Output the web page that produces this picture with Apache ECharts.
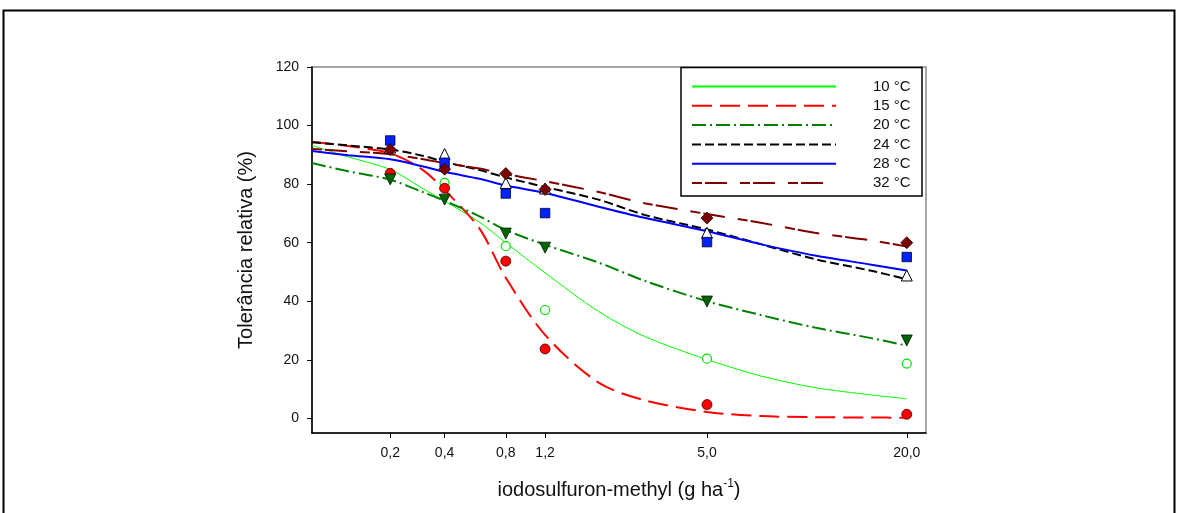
<!DOCTYPE html>
<html>
<head>
<meta charset="utf-8">
<script src="https://cdn.jsdelivr.net/npm/echarts@6/dist/echarts.min.js"></script>
<style>
  html, body { margin: 0; padding: 0; background: #ffffff; }
  #chart { width: 1179px; height: 513px; }
</style>
</head>
<body>
<div id="chart"></div>
<script>
// Doses of iodosulfuron-methyl (g ha-1) and their axis labels
const doses = [0.2, 0.4, 0.8, 1.2, 5, 20];
const doseTickLabels = ['0,2', '0,4', '0,8', '1,2', '5,0', '20,0'];
const yTicks = [0, 20, 40, 60, 80, 100, 120];
const seriesNames = ['10 °C', '15 °C', '20 °C', '24 °C', '28 °C', '32 °C'];

// Observed relative tolerance (%) at each dose
const obs10 = [83.5, 80.4, 58.8, 37.0, 20.4, 18.7];
const obs15 = [83.7, 78.6, 53.7, 23.7, 4.7, 1.4];
const obs20 = [81.6, 74.7, 63.1, 58.3, 39.9, 26.6];
const obs24 = [92.5, 90.3, 80.4, 78.5, 63.4, 48.8];
const obs28 = [94.9, 87.3, 76.8, 70.1, 60.2, 55.1];
const obs32 = [91.8, 85.1, 83.6, 78.2, 68.4, 60.0];

// Fitted dose-response curves, sampled along the dose range
const curveDoses = [0.0623, 0.11, 0.2, 0.3, 0.4, 0.6, 0.8, 1.2, 2, 3, 5, 7.5, 11, 16, 20];
const fit10 = [93.2, 89.3, 85.0, 78.8, 74.2, 67.0, 60.0, 49.7, 36.5, 28.0, 20.1, 14.5, 10.5, 8.0, 6.7];
const fit15 = [94.5, 93.0, 90.5, 85.2, 78.0, 64.8, 48.0, 28.5, 12.2, 6.2, 2.2, 0.8, 0.4, 0.3, 0.2];
const fit20 = [87.2, 84.4, 81.5, 77.5, 74.3, 69.0, 64.3, 59.3, 53.2, 47.0, 40.0, 35.3, 31.0, 27.4, 24.8];
const fit24 = [94.3, 93.2, 91.8, 89.8, 87.6, 84.8, 82.3, 79.0, 74.7, 69.5, 64.5, 59.5, 54.4, 50.4, 47.5];
const fit28 = [91.3, 89.9, 88.5, 86.2, 84.2, 81.8, 79.5, 77.0, 72.3, 68.5, 63.9, 59.5, 55.6, 52.5, 50.5];
const fit32 = [92.0, 91.2, 90.2, 88.6, 87.2, 85.3, 83.4, 81.0, 77.3, 73.5, 69.8, 66.8, 63.4, 60.8, 58.7];

// Dose range shown on the horizontal axis
const doseMin = 0.0623;
const doseMax = 22.5;

// The dose axis is a compressed power scale
const POWER = 0.17;
const xs = d => Math.pow(d, POWER);

const FONT = "'Liberation Sans', Arial, Helvetica, sans-serif";

const styles = [
  { line: '#00ff00', width: 1, dash: 'solid',
    symbol: 'circle', size: 9, fill: '#ffffff', border: '#00e000', bw: 1.2, rot: 0 },
  { line: '#ff0000', width: 2, dash: [20, 8],
    symbol: 'circle', size: 10, fill: '#ff0000', border: '#400000', bw: 0.8, rot: 0 },
  { line: '#008000', width: 2, dash: [14, 4, 2, 4],
    symbol: 'triangle', size: 11, fill: '#006400', border: '#001a00', bw: 0.8, rot: 180 },
  { line: '#000000', width: 2, dash: [9, 4],
    symbol: 'triangle', size: 11, fill: '#ffffff', border: '#000000', bw: 1, rot: 0 },
  { line: '#0000ff', width: 2, dash: 'solid',
    symbol: 'rect', size: 9.5, fill: '#0022ff', border: '#000033', bw: 0.8, rot: 0 },
  { line: '#800000', width: 2, dash: [10, 3, 22, 13],
    symbol: 'diamond', size: 12, fill: '#7a0000', border: '#200000', bw: 0.8, rot: 0 }
];

const fits = [fit10, fit15, fit20, fit24, fit28, fit32];
const obs = [obs10, obs15, obs20, obs24, obs28, obs32];

const series = [];
fits.forEach((fit, i) => {
  const s = styles[i];
  series.push({
    name: seriesNames[i],
    type: 'line',
    smooth: 0.3,
    symbol: 'none',
    silent: true,
    z: 2,
    lineStyle: { color: s.line, width: s.width, type: s.dash },
    itemStyle: { color: s.line },
    data: curveDoses.map((d, k) => [xs(d), fit[k]])
  });
});
obs.forEach((vals, i) => {
  const s = styles[i];
  series.push({
    name: seriesNames[i] + ' obs',
    type: 'scatter',
    symbol: s.symbol,
    symbolSize: s.size,
    symbolRotate: s.rot,
    silent: true,
    z: 3,
    itemStyle: { color: s.fill, borderColor: s.border, borderWidth: s.bw, opacity: 1 },
    data: doses.map((d, k) => [xs(d), vals[k]])
  });
});

const doseTickValues = doses.map(xs);

const chart = echarts.init(document.getElementById('chart'), null, { renderer: 'canvas' });
chart.setOption({
  animation: false,
  backgroundColor: '#ffffff',
  textStyle: { fontFamily: FONT },
  grid: {
    left: 312, right: 253, top: 67, bottom: 80,
    show: true, borderColor: '#8a8a8a', borderWidth: 1.5,
    outerBoundsMode: 'none'
  },
  legend: {
    data: seriesNames,
    orient: 'vertical',
    left: 691, top: 79,
    padding: 0,
    itemWidth: 144, itemHeight: 14, itemGap: 4.3,
    selectedMode: false,
    // line-only keys: the point marker on each key is made invisible
    itemStyle: { opacity: 0, color: 'transparent', borderColor: 'transparent', borderWidth: 0 },
    textStyle: { fontSize: 15, color: '#111', fontFamily: FONT, lineHeight: 14, padding: [0, 0, 0, 32] }
  },
  xAxis: {
    type: 'value',
    min: xs(doseMin), max: xs(doseMax),
    name: 'iodosulfuron-methyl (g ha{sup|-1})',
    nameLocation: 'middle',
    nameGap: 45,
    nameTextStyle: {
      fontSize: 20, color: '#111', fontFamily: FONT, lineHeight: 24,
      rich: { sup: { fontSize: 12, verticalAlign: 'top', lineHeight: 12, color: '#111', fontFamily: FONT } }
    },
    axisLine: { show: true, onZero: false, lineStyle: { color: '#000', width: 1.5 } },
    axisTick: { show: true, length: 5, customValues: doseTickValues, lineStyle: { color: '#000', width: 1 } },
    axisLabel: {
      customValues: doseTickValues,
      margin: 13, fontSize: 14, color: '#111', fontFamily: FONT,
      formatter: v => {
        const i = doseTickValues.findIndex(t => Math.abs(t - v) < 1e-6);
        return i >= 0 ? doseTickLabels[i] : '';
      }
    },
    splitLine: { show: false }
  },
  yAxis: {
    type: 'value',
    min: -5, max: 120,
    name: 'Tolerância relativa (%)',
    nameLocation: 'middle',
    nameGap: 56,
    nameRotate: 90,
    nameTextStyle: { fontSize: 20, color: '#111', fontFamily: FONT },
    axisLine: { show: true, onZero: false, lineStyle: { color: '#000', width: 1.5 } },
    axisTick: { show: true, length: 5, customValues: yTicks, lineStyle: { color: '#000', width: 1 } },
    axisLabel: { customValues: yTicks, margin: 13, fontSize: 14, color: '#111', fontFamily: FONT },
    splitLine: { show: false }
  },
  graphic: [
    {
      type: 'rect', silent: true, z: 0,
      shape: { x: 3.5, y: 10.5, width: 1171, height: 512 },
      style: { fill: null, stroke: '#000', lineWidth: 2 }
    },
    {
      type: 'rect', silent: true, z: 1,
      shape: { x: 681, y: 67.5, width: 241, height: 128.5 },
      style: { fill: '#ffffff', stroke: '#000', lineWidth: 1.5 }
    }
  ],
  series: series
});
</script>
</body>
</html>
